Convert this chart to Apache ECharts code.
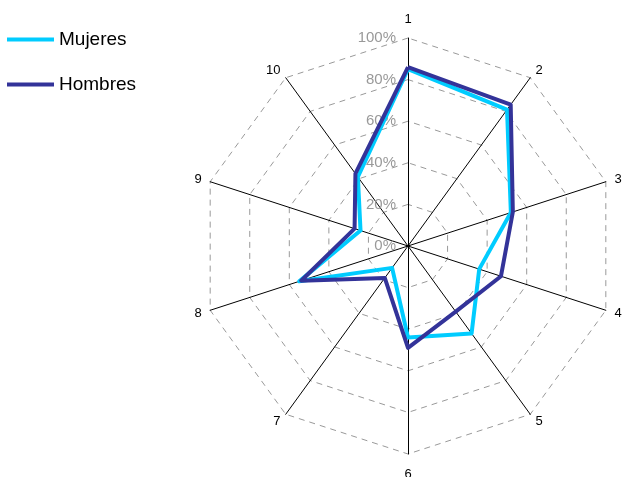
<!DOCTYPE html>
<html>
<head>
<meta charset="utf-8">
<script src="https://cdn.jsdelivr.net/npm/echarts@6/dist/echarts.min.js"></script>
<style>
    html, body { margin: 0; padding: 0; background: #fff; }
    #chart { width: 630px; height: 477px; }
</style>
</head>
<body>
<div id="chart"></div>
<script>
// ejes 1..10 en sentido horario desde arriba
const categories = ['1', '2', '3', '4', '5', '6', '7', '8', '9', '10'];
const mujeres = [85, 81, 52, 36, 52, 44, 13, 55, 24, 41];
const hombres = [86, 84, 53, 47, 39, 49, 19, 54, 27, 43];
const maxValue = 100;

(function () {
    // echarts dibuja el radar en sentido antihorario, asi que se invierte el orden
    const order = [0];
    for (let i = categories.length - 1; i > 0; i--) order.push(i);

    let indicator = order.map((i, k) => {
        let item = { name: categories[i], min: 0, max: maxValue };
        if (k === 0) {
            item.nameGap = 12;
            item.axisLabel = {
                show: true,
                color: '#999999',
                fontSize: 15,
                margin: 12,
                formatter: '{value}%'
            };
        }
        if (categories[i] === '6') item.nameGap = 14;
        return item;
    });

    let myChart = echarts.init(document.getElementById('chart'));
    let option = {
        animation: false,
        textStyle: { fontFamily: 'Liberation Sans, Arial, sans-serif' },
        legend: {
            orient: 'vertical',
            left: 2,
            top: 25,
            itemWidth: 47,
            itemHeight: 4,
            itemGap: 26,
            icon: 'rect',
            textStyle: { fontSize: 19, color: '#000' },
            data: ['Mujeres', 'Hombres']
        },
        radar: {
            center: [408, 246],
            radius: 208,
            startAngle: 90,
            splitNumber: 5,
            shape: 'polygon',
            nameGap: 9,
            axisName: { color: '#000', fontSize: 13 },
            axisLine: { lineStyle: { color: '#000', width: 1 } },
            splitLine: { lineStyle: { color: '#999999', type: [6, 5], width: 1 } },
            splitArea: { show: false },
            axisLabel: { show: false },
            indicator: indicator
        },
        series: [
            {
                type: 'radar',
                symbol: 'none',
                data: [
                    {
                        name: 'Mujeres',
                        value: order.map(i => mujeres[i]),
                        lineStyle: { color: '#00CCFF', width: 4 },
                        itemStyle: { color: '#00CCFF' }
                    },
                    {
                        name: 'Hombres',
                        value: order.map(i => hombres[i]),
                        lineStyle: { color: '#333399', width: 4 },
                        itemStyle: { color: '#333399' }
                    }
                ]
            }
        ]
    };

    myChart.setOption(option);
})();
</script>
</body>
</html>
